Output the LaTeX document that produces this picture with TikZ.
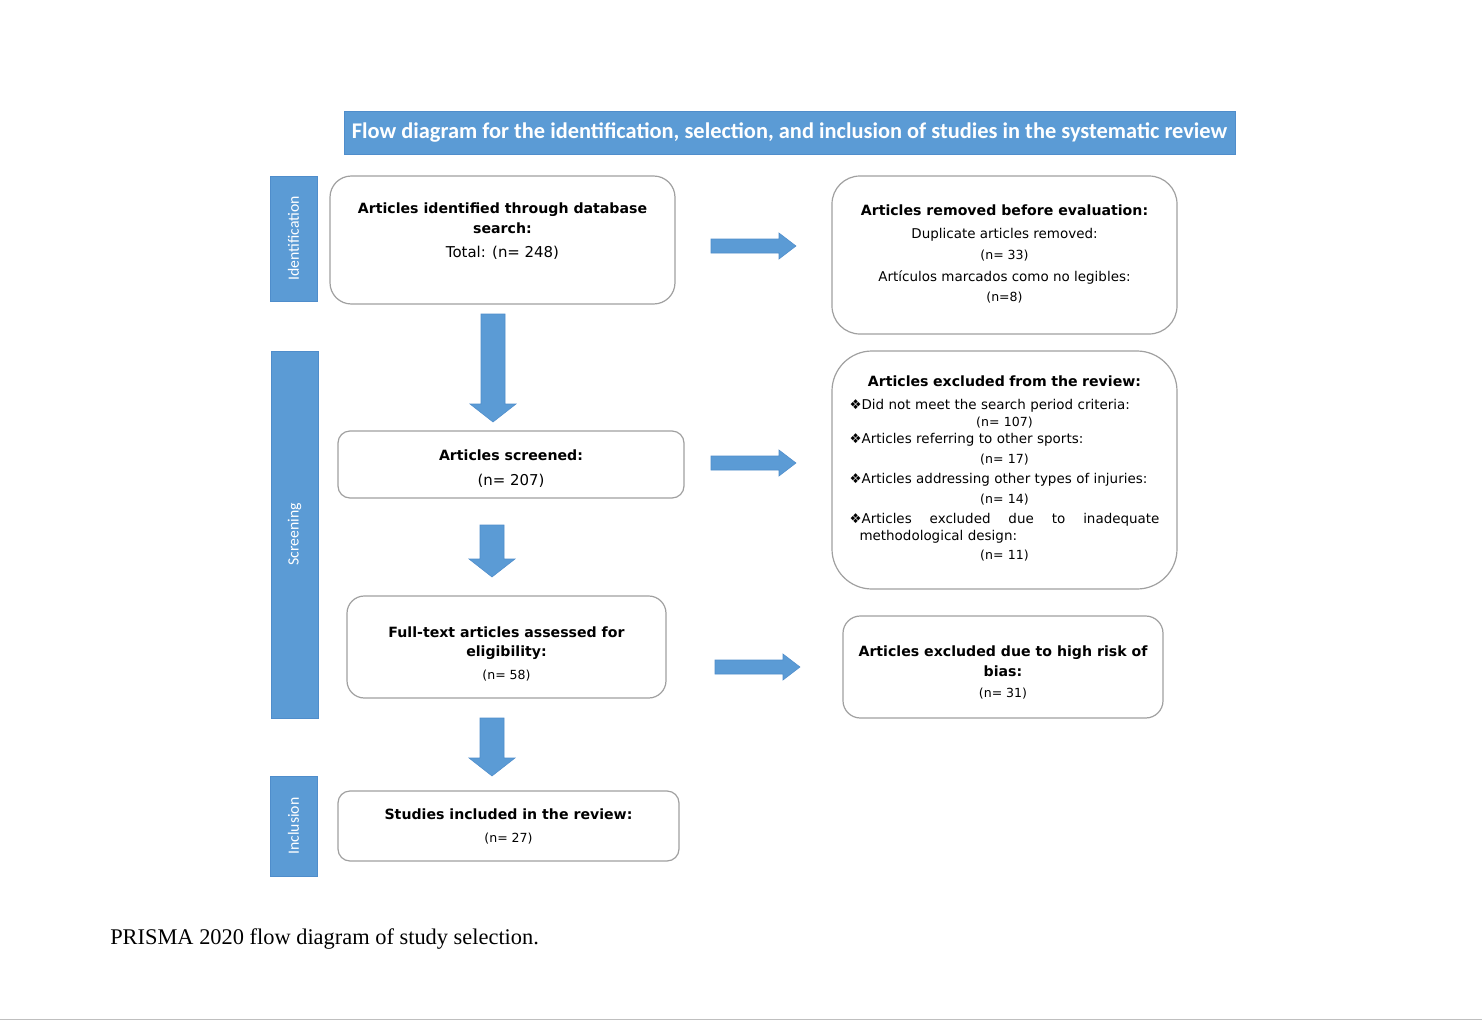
\documentclass[tikz,border=0pt]{standalone}
\usepackage{fontspec}
\setmainfont{DejaVu Sans}
\newfontfamily\carl{Carlito}
\newfontfamily\timesf{Liberation Serif}
\definecolor{pblue}{HTML}{5B9BD5}
\definecolor{pedge}{HTML}{4F8DCB}
\definecolor{bgray}{HTML}{A0A0A0}
\definecolor{lgray}{HTML}{BFBFBF}
\newcommand\fbT{\fontsize{10.6pt}{15pt}\selectfont\bfseries}
\newcommand\fdS{\fontsize{10.1pt}{15pt}\selectfont\mdseries}
\newcommand\fsN{\fontsize{9.4pt}{15pt}\selectfont\mdseries}
\newcommand\fbN{\fontsize{11.2pt}{15pt}\selectfont\mdseries}
\newcommand\ctrline[1]{\makebox[232.5pt]{#1}}
\newcommand\rightblock[3]{\draw[barrow] (#1,#3-7) -- (#2-17,#3-7) -- (#2-17,#3-13) -- (#2,#3) -- (#2-17,#3+13) -- (#2-17,#3+7) -- (#1,#3+7) -- cycle;}
\newcommand\downblock[3]{\draw[barrow] (#1-12,#2) -- (#1+12,#2) -- (#1+12,#3-18) -- (#1+23,#3-18) -- (#1,#3) -- (#1-23,#3-18) -- (#1-12,#3-18) -- cycle;}
\begin{document}
\begin{tikzpicture}[x=0.75pt,y=-0.75pt,
  box/.style={draw=bgray, line width=0.9pt, fill=white, inner sep=0pt, align=center,
    font=\fontsize{10pt}{15pt}\selectfont},
  side/.style={fill=pblue, draw=pedge, line width=0.5pt, text=white, rotate=90,
    font=\carl\fontsize{11.8pt}{14pt}\selectfont, inner sep=0pt, minimum height=35.25pt},
  barrow/.style={fill=pblue, draw=pedge, line width=0.4pt}]
\useasboundingbox (0,0) rectangle (1482,1021);
\fill[white] (0,0) rectangle (1482,1021);

% title bar
\node[fill=pblue, draw=pedge, line width=0.5pt, inner sep=0pt, text=white,
  minimum width=668.25pt, minimum height=32.25pt,
  font=\carl\bfseries\fontsize{16.8pt}{18pt}\selectfont] (title) at (789.5,132.5)
  {Flow diagram for the identification, selection, and inclusion of studies in the systematic review};

% side labels
\node[side, minimum width=93.75pt] (sid) at (293.5,238.5) {Identification};
\node[side, minimum width=275.25pt] (sscr) at (294.5,534.5) {Screening};
\node[side, minimum width=75pt] (sinc) at (293.5,826) {Inclusion};

% left column
\node[box, rounded corners=16pt, minimum width=258.75pt, minimum height=96pt] (b1) at (502.5,240)
  {\fbT Articles identified through database\\ \fbT search:\\[3pt]\fbN Total: (n= 248)\\ \mbox{}};
\node[box, rounded corners=9pt, minimum width=259.5pt, minimum height=50.25pt] (b3) at (511,464.5)
  {\rule{0pt}{14.5pt}\fbT Articles screened:\\[3.75pt]\fbN (n= 207)};
\node[box, rounded corners=13pt, minimum width=239.25pt, minimum height=76.5pt] (b5) at (506.5,647)
  {\rule{0pt}{18.5pt}\fbT Full-text articles assessed for\\[-0.75pt]\fbT eligibility:\\[2.25pt]\fsN (n= 58)};
\node[box, rounded corners=9pt, minimum width=255.75pt, minimum height=52.5pt] (b7) at (508.5,826)
  {\fbT Studies included in the review:\\[2.25pt]\fsN (n= 27)};

% right column
\node[box, rounded corners=21pt, minimum width=258.75pt, minimum height=118.5pt] (b2) at (1004.5,255)
  {\fbT Articles removed before evaluation:\\[2.25pt]\fdS Duplicate articles removed:\\[0.75pt]\fsN (n= 33)\\[1.5pt]\fdS Artículos marcados como no legibles:\\ \fsN (n=8)\\[-12pt]\mbox{}};
\node[box, rounded corners=30pt, minimum width=258.75pt, minimum height=178.5pt,
  text width=232.5pt, align=left] (b4) at (1004.5,470)
  {\fbT\ctrline{Articles excluded from the review:}\\[2.25pt]
   \fdS ❖Did not meet the search period criteria:\\[-2.25pt]
   \ctrline{\fsN (n= 107)}\\[-2.25pt]
   \fdS ❖Articles referring to other sports:\\
   \ctrline{\fsN (n= 17)}\\
   \fdS ❖Articles addressing other types of injuries:\\
   \ctrline{\fsN (n= 14)}\\
   \fdS\makebox[232.5pt][s]{❖Articles\hfill excluded\hfill due\hfill to\hfill inadequate}\\[-2.25pt]
   \fdS\hspace*{7.5pt}methodological design:\\[-0.75pt]
   \ctrline{\fsN (n= 11)}\\[-12pt]\mbox{}};
\node[box, rounded corners=13pt, minimum width=240pt, minimum height=76.5pt] (b6) at (1003,667)
  {\rule{0pt}{16pt}\fbT Articles excluded due to high risk of\\ \fbT bias:\\[0.75pt]\fsN (n= 31)};

% block arrows
\rightblock{711}{796}{246}
\rightblock{711}{796}{463}
\rightblock{715}{800}{667}
\downblock{493}{314}{422}
\downblock{492}{525}{577}
\downblock{492}{718}{776}

% caption
\node[anchor=base west, inner sep=0pt, font=\timesf\fontsize{16.8pt}{20pt}\selectfont] (cap)
  at (110,944) {PRISMA 2020 flow diagram of study selection.};

\draw[lgray, line width=1.1pt] (0,1019.5) -- (1482,1019.5);
\end{tikzpicture}
\end{document}
